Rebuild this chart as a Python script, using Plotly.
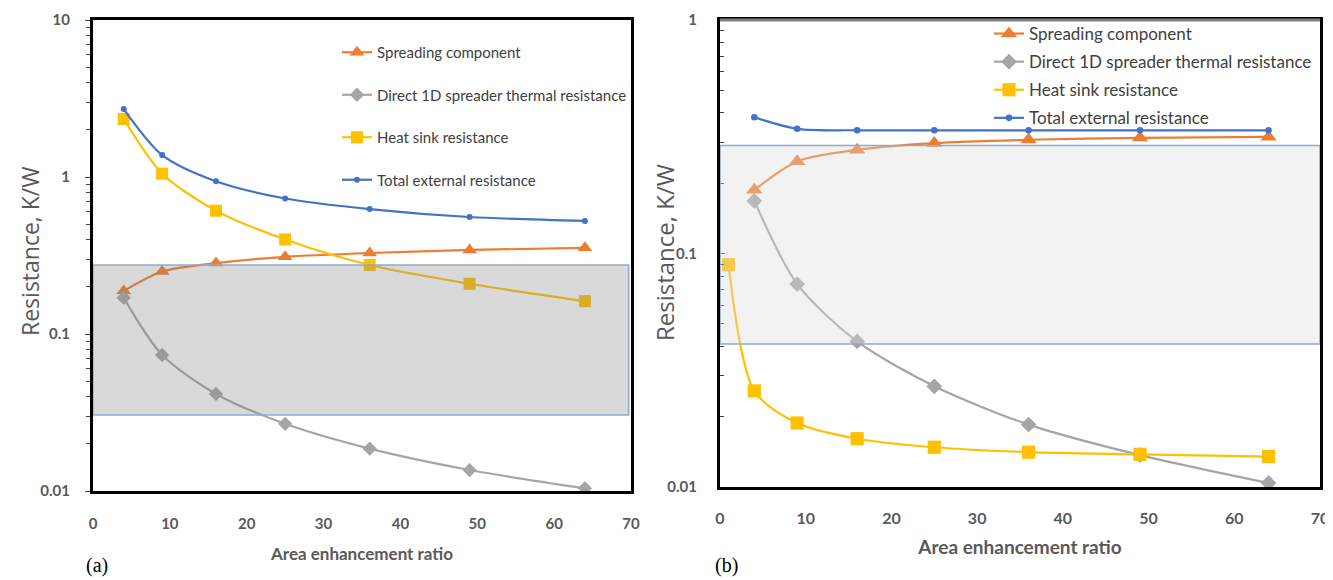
import plotly.graph_objects as go

# ---------------- data ----------------
x_area = [4, 9, 16, 25, 36, 49, 64]

# panel (a)
a_spreading = [0.188, 0.250, 0.283, 0.310, 0.328, 0.343, 0.354]
a_direct1d = [0.170, 0.0735, 0.0415, 0.0268, 0.0186, 0.0136, 0.0104]
a_heatsink = [2.34, 1.05, 0.61, 0.40, 0.275, 0.209, 0.162]
a_total = [2.71, 1.38, 0.94, 0.73, 0.625, 0.556, 0.525]

# panel (b)
x_heatsink_b = [1, 4, 9, 16, 25, 36, 49, 64]
b_spreading = [0.187, 0.248, 0.278, 0.297, 0.307, 0.313, 0.316]
b_direct1d = [0.168, 0.074, 0.042, 0.027, 0.0185, 0.0137, 0.0104]
b_heatsink = [0.0895, 0.0258, 0.0188, 0.0161, 0.0148, 0.0141, 0.0138, 0.0135]
b_total = [0.383, 0.342, 0.337, 0.337, 0.337, 0.337, 0.337]

series_names = ["Spreading component", "Direct 1D spreader thermal resistance",
                "Heat sink resistance", "Total external resistance"]
band_a = [0.0305, 0.275]
band_b = [0.041, 0.29]
x_ticks = [0, 10, 20, 30, 40, 50, 60, 70]
y_ticks_a = [0.01, 0.1, 1, 10]
y_tick_text_a = ["0.01", "0.1", "1", "10"]
y_ticks_b = [0.01, 0.1, 1]
y_tick_text_b = ["0.01", "0.1", "1"]
x_title = "Area enhancement ratio"
y_title = "Resistance, K/W"

# ---------------- styling ----------------
ORANGE = "#ED7D31"
GRAY = "#A5A5A5"
YELLOW = "#FFC000"
BLUE = "#4472C4"
TXT = "#595959"
FONT = "Lato"

W, H = 1333, 580
def px_x(p):
    return p / W
def px_y(p):
    return 1 - p / H

fig = go.Figure()

def add_series(xs_list, ys_list, xref, yref, legend, scale):
    styles = [
        (ORANGE, dict(symbol="triangle-up", size=13 * scale)),
        (GRAY, dict(symbol="diamond", size=11 * scale)),
        (YELLOW, dict(symbol="square", size=12 * scale)),
        (BLUE, dict(symbol="circle", size=6 * scale)),
    ]
    for i, (xs, ys, name, (col, mk)) in enumerate(zip(xs_list, ys_list, series_names, styles)):
        fig.add_trace(go.Scatter(
            x=xs, y=ys, name=name, mode="lines+markers",
            line=dict(color=col, width=2.2, shape="spline", smoothing=0.8),
            marker=dict(color=col, **mk),
            xaxis=xref, yaxis=yref, legend=legend,
            legendgroup=f"{legend}{i}",
        ))

add_series([x_area, x_area, x_area, x_area],
           [a_spreading, a_direct1d, a_heatsink, a_total], "x", "y", "legend", 1.0)
add_series([x_area, x_area, x_heatsink_b, x_area],
           [b_spreading, b_direct1d, b_heatsink, b_total], "x2", "y2", "legend2", 1.1)

axis_common = dict(showgrid=False, zeroline=False, showline=True, mirror=True,
                   linecolor="black", linewidth=3, automargin=False)

def xaxis_cfg(domain, anchor, tick_size, title_size, standoff, label_off):
    return dict(axis_common, domain=domain, anchor=anchor, range=[0, 70],
                tickvals=x_ticks, ticks="",
                tickfont=dict(family=FONT, size=tick_size, color=TXT, weight="bold"),
                ticklabelstandoff=label_off,
                title=dict(text=x_title,
                           font=dict(family=FONT, size=title_size, color=TXT, weight="bold"),
                           standoff=standoff))

def yaxis_cfg(domain, anchor, rng, tv, tt, tickdir):
    return dict(axis_common, type="log", range=rng, domain=domain, anchor=anchor,
                tickvals=tv, ticktext=tt, ticks=tickdir, ticklen=5, tickcolor="#404040",
                minor=dict(ticks=tickdir, ticklen=4, tickcolor="#404040", dtick="D1"),
                tickfont=dict(family=FONT, size=15, color=TXT, weight="bold"),
                ticklabelstandoff=12 if tickdir == "outside" else 17)

fig.update_layout(
    width=W, height=H,
    margin=dict(l=0, r=0, t=0, b=0),
    plot_bgcolor="white", paper_bgcolor="white",
    showlegend=True,
    xaxis=xaxis_cfg([px_x(85), px_x(623)], "y", 15, 17, 18, 17),
    yaxis=yaxis_cfg([px_y(483), px_y(12)], "x", [-2, 1], y_ticks_a, y_tick_text_a, "outside"),
    xaxis2=xaxis_cfg([px_x(712), px_x(1312)], "y2", 16, 19, 15, 15),
    yaxis2=yaxis_cfg([px_y(479), px_y(12)], "x2", [-2, 0], y_ticks_b, y_tick_text_b, "inside"),
    legend=dict(x=px_x(329), y=px_y(28), xanchor="left", yanchor="top",
                bgcolor="rgba(0,0,0,0)", tracegroupgap=20, traceorder="grouped",
                font=dict(family=FONT, size=15, color="#404040")),
    legend2=dict(x=px_x(981), y=px_y(8), xanchor="left", yanchor="top",
                 bgcolor="rgba(0,0,0,0)", tracegroupgap=3, traceorder="grouped",
                 font=dict(family=FONT, size=17, color="#404040")),
)

# y-axis titles
fig.add_annotation(text=y_title, x=px_x(22), y=px_y(243), xref="paper", yref="paper",
                   textangle=-90, showarrow=False, xanchor="center", yanchor="middle",
                   font=dict(family="Open Sans", size=23, color=TXT))
fig.add_annotation(text=y_title, x=px_x(656), y=px_y(245), xref="paper", yref="paper",
                   textangle=-90, showarrow=False, xanchor="center", yanchor="middle",
                   font=dict(family="Open Sans", size=24, color=TXT))

# top border of panel (b) is grey in the reference
fig.add_shape(type="line", xref="x2 domain", yref="y2 domain", x0=0, x1=1, y0=1, y1=1,
              line=dict(color="#7F7F7F", width=3), layer="above")

# shaded bands (drawn over the series, semi-transparent)
fig.add_shape(type="rect", xref="x", yref="y", x0=0, x1=69.7, y0=band_a[0], y1=band_a[1],
              fillcolor="rgba(128,128,128,0.3)", line=dict(color="#8FAACB", width=1.5),
              layer="above")
fig.add_shape(type="rect", xref="x2", yref="y2", x0=0, x1=70, y0=band_b[0], y1=band_b[1],
              fillcolor="rgba(220,220,220,0.37)", line=dict(color="#8FAACB", width=1.5),
              layer="above")

# panel labels
fig.add_annotation(text="(a)", x=px_x(76), y=px_y(557), xref="paper", yref="paper",
                   xanchor="left", yanchor="middle", showarrow=False,
                   font=dict(family="Liberation Serif", size=20, color="black"))
fig.add_annotation(text="(b)", x=px_x(705), y=px_y(557), xref="paper", yref="paper",
                   xanchor="left", yanchor="middle", showarrow=False,
                   font=dict(family="Liberation Serif", size=20, color="black"))

fig.write_html("out.html")
